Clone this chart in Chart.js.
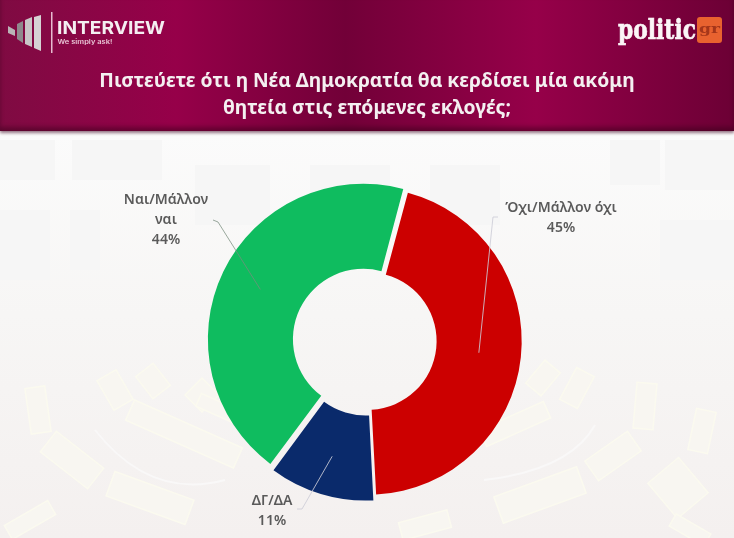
<!DOCTYPE html>
<html>
<head>
<meta charset="utf-8">
<script src="https://cdn.jsdelivr.net/npm/chart.js@4"></script>
<style>
  html, body { margin: 0; padding: 0; width: 734px; height: 538px; overflow: hidden; background: #f6f3f2; }
  #bg, #chart, #header { position: absolute; left: 0; top: 0; }
  #chart-box { position: absolute; left: 0; top: 0; width: 734px; height: 538px; }
  #header { width: 734px; height: 131px;
    background: linear-gradient(90deg, #7f0b42 0, #960049 24%, #720038 47%, #960049 73%, #6c0035 100%);
    box-shadow: 0 2px 3px rgba(60,0,30,.55), inset 0 -4px 4px rgba(50,0,25,.45); }
  #title { position: absolute; left: 0; top: 66px; width: 734px; text-align: center; color: #f4f0f1;
    font: 700 19.3px/27px "Noto Sans", sans-serif; }
</style>
</head>
<body>
<svg id="bg" width="734" height="538"></svg>
<div id="chart-box"><canvas id="chart" width="734" height="538"></canvas></div>
<div id="header">
  <svg width="734" height="131" style="position:absolute;left:0;top:0">
    <polygon points="8,26 15,30 15,36 8,33" fill="#b9b4b6"/>
    <polygon points="17,24 23,21 23,43 17,39" fill="#8f8a8d"/>
    <polygon points="25,20 32,17 32,47 25,44" fill="#c9c6c7"/>
    <polygon points="34,17 41,15 41,51 34,48" fill="#d6d3d4"/>
    <rect x="51" y="12" width="1.5" height="41" fill="#e7bcd0"/>
    <text x="57" y="34" fill="#f4eef1" font-family="Inter, sans-serif" font-weight="700" font-size="18" textLength="108" lengthAdjust="spacingAndGlyphs">INTERVIEW</text>
    <text x="57.5" y="44" fill="#e9c6d6" font-family="Inter, sans-serif" font-weight="600" font-size="5.6" textLength="55" lengthAdjust="spacingAndGlyphs">We simply ask!</text>
    <text x="618" y="39" fill="#fbf6f7" stroke="#fbf6f7" stroke-width="0.7" font-family="'DejaVu Serif', serif" font-weight="700" font-size="28" textLength="78" lengthAdjust="spacingAndGlyphs">politic</text>
    <rect x="697" y="17" width="25" height="26" rx="3" fill="#e8622f"/>
    <text x="699" y="33" fill="#a5361a" font-family="'DejaVu Serif', serif" font-weight="700" font-size="12" textLength="21" lengthAdjust="spacingAndGlyphs">gr</text>
  </svg>
  <div id="title">Πιστεύετε ότι η Νέα Δημοκρατία θα κερδίσει μία ακόμη<br>θητεία στις επόμενες εκλογές;</div>
</div>
<script>
const categories = ['Όχι/Μάλλον όχι', 'ΔΓ/ΔΑ', 'Ναι/Μάλλον ναι'];
const values = [45, 11, 44];
const colors = ['#cc0000', '#0a2a6b', '#0fbc5f'];
const sliceOffsets = [4, 20, 16];

// label lines and where the leader line ends, same order as categories
const labelLines = [['Όχι/Μάλλον όχι', '45%'], ['ΔΓ/ΔΑ', '11%'], ['Ναι/Μάλλον', 'ναι', '44%']];
const labelAnchors = [[561, 208], [272, 501], [166, 200]];
const leaderEnds = [[[498, 217], [493, 217]], [[297, 509], [302, 509]], [[213, 220], [218, 222]]];

// faded chamber picture behind the chart
const seatBlocks = [
  [150, 498, 84, 26, 20], [72, 460, 60, 26, 38], [38, 410, 20, 46, -8], [115, 390, 22, 34, -30],
  [184, 434, 118, 22, 24], [153, 381, 22, 28, -38], [202, 395, 24, 24, -45], [226, 412, 60, 14, 24],
  [540, 495, 88, 28, -20], [613, 456, 52, 24, -35], [678, 488, 40, 46, -40], [645, 406, 20, 46, 5],
  [702, 431, 20, 42, 12], [577, 388, 20, 36, 28], [543, 378, 20, 30, 40], [515, 424, 70, 18, -24],
  [30, 520, 50, 16, -30], [690, 530, 40, 14, 30], [425, 525, 50, 18, -15]
];
const windowBoxes = [[0, 140, 55, 40], [72, 140, 90, 40], [195, 165, 75, 60], [310, 165, 80, 60], [430, 165, 70, 60], [610, 140, 50, 45], [665, 140, 69, 50], [0, 210, 50, 70], [70, 210, 30, 60], [660, 220, 74, 60]];

function drawBackground() {
  const svg = document.getElementById('bg');
  let out = '<defs><linearGradient id="wall" x1="0" y1="0" x2="0" y2="1">'
    + '<stop offset="0" stop-color="#fbfbfb"/><stop offset="0.45" stop-color="#f7f6f5"/><stop offset="1" stop-color="#f4f0ef"/>'
    + '</linearGradient></defs>';
  out += '<rect x="0" y="131" width="734" height="407" fill="url(#wall)"/>';
  for (const b of windowBoxes) {
    out += `<rect x="${b[0]}" y="${b[1]}" width="${b[2]}" height="${b[3]}" fill="#f6f6f6"/>`;
  }
  for (const b of seatBlocks) {
    out += `<rect x="${-b[2] / 2}" y="${-b[3] / 2}" width="${b[2]}" height="${b[3]}" transform="translate(${b[0]} ${b[1]}) rotate(${b[4]})" fill="#f8f6f1" stroke="#fbfaef" stroke-width="1.5"/>`;
  }
  out += '<path d="M95 430 Q150 500 225 480" fill="none" stroke="#f9f8f8" stroke-width="2"/>';
  out += '<path d="M484 480 Q570 470 595 425" fill="none" stroke="#f9f8f8" stroke-width="2"/>';
  svg.innerHTML = out;
}

const calloutPlugin = {
  id: 'callouts',
  afterDatasetsDraw(chart) {
    const ctx = chart.ctx;
    const arcs = chart.getDatasetMeta(0).data;
    ctx.save();
    arcs.forEach((arc, i) => {
      const p = arc.tooltipPosition();
      const ends = leaderEnds[i];
      ctx.beginPath();
      ctx.moveTo(ends[0][0], ends[0][1]);
      ctx.lineTo(ends[1][0], ends[1][1]);
      ctx.lineTo(p.x, p.y);
      ctx.strokeStyle = i == 2 ? 'rgba(120,140,125,0.75)' : 'rgba(205,205,215,0.85)';
      ctx.lineWidth = 1;
      ctx.stroke();

      ctx.fillStyle = '#5a5a5a';
      ctx.font = '600 14px "Noto Sans", sans-serif';
      ctx.textAlign = 'center';
      ctx.textBaseline = 'middle';
      labelLines[i].forEach((line, k) => {
        ctx.fillText(line, labelAnchors[i][0], labelAnchors[i][1] + k * 20);
      });
    });
    ctx.restore();
  }
};

drawBackground();

new Chart(document.getElementById('chart'), {
  type: 'doughnut',
  data: {
    labels: categories,
    datasets: [{
      data: values,
      backgroundColor: colors,
      borderWidth: 0,
      offset: sliceOffsets
    }]
  },
  options: {
    responsive: false,
    animation: false,
    rotation: 15,
    radius: 153,
    cutout: '44.4%',
    layout: { padding: { left: 0, right: 0, top: 144, bottom: 0 } },
    plugins: {
      legend: { display: false },
      tooltip: { enabled: false }
    }
  },
  plugins: [calloutPlugin]
});
</script>
</body>
</html>
